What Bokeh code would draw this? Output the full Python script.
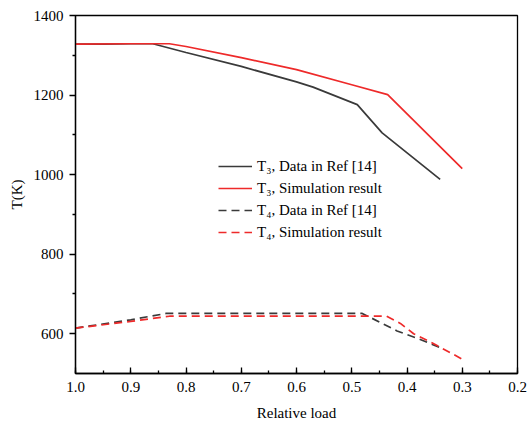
from bokeh.plotting import figure
from bokeh.models import (Range1d, SingleIntervalTicker, FixedTicker, PrintfTickFormatter,
                          Legend, LegendItem)
from bokeh.embed import file_html
from bokeh.resources import INLINE

# Relative load vs. temperature (K)
t3_ref_load = [1.0, 0.95, 0.9, 0.86, 0.8, 0.7, 0.6, 0.57, 0.49, 0.445, 0.34]
t3_ref_temp = [1328, 1328, 1329, 1329, 1307, 1272, 1233, 1220, 1176, 1105, 988]

t3_sim_load = [1.0, 0.9, 0.83, 0.8, 0.7, 0.6, 0.5, 0.435, 0.3]
t3_sim_temp = [1328, 1329, 1329, 1322, 1294, 1264, 1226, 1201, 1015]

t4_ref_load = [1.0, 0.9, 0.836, 0.7, 0.6, 0.481, 0.445, 0.418, 0.379, 0.34]
t4_ref_temp = [614, 635, 651, 651, 651, 651, 626, 607, 587, 565]

t4_sim_load = [1.0, 0.9, 0.83, 0.7, 0.6, 0.5, 0.437, 0.412, 0.388, 0.357, 0.3]
t4_sim_temp = [614, 631, 644, 644, 644, 644, 644, 626, 600, 579, 536]

y_major = [600, 800, 1000, 1200, 1400]
y_minor = [700, 900, 1100, 1300]

FONT = "Liberation Serif"
DARK = "#3a3a3a"
RED = "#ee2a2a"

p = figure(width=531, height=423, output_backend="svg", toolbar_location=None,
           x_range=Range1d(1.0, 0.2), y_range=Range1d(500, 1400),
           min_border_left=75, min_border_right=14, min_border_top=15, min_border_bottom=50)
p.background_fill_color = "white"
p.border_fill_color = "white"
p.outline_line_color = "black"
p.outline_line_width = 1.3
p.xgrid.visible = False
p.ygrid.visible = False

r1 = p.line(t3_ref_load, t3_ref_temp, line_color=DARK, line_width=1.7)
r2 = p.line(t3_sim_load, t3_sim_temp, line_color=RED, line_width=1.7)
r3 = p.line(t4_ref_load, t4_ref_temp, line_color=DARK, line_width=1.7, line_dash="8 5")
r4 = p.line(t4_sim_load, t4_sim_temp, line_color=RED, line_width=1.7, line_dash="8 5")

# x axis: ticks pointing into the frame
xa = p.xaxis[0]
xa.ticker = SingleIntervalTicker(interval=0.1, num_minor_ticks=2)
xa.formatter = PrintfTickFormatter(format="%.1f")
xa.axis_label = "Relative load"
xa.major_tick_in = 6
xa.major_tick_out = 0
xa.minor_tick_in = 3
xa.minor_tick_out = 0
xa.major_label_standoff = 8

# y axis: ticks pointing outward
ya = p.yaxis[0]
ya.ticker = FixedTicker(ticks=y_major, minor_ticks=y_minor)
ya.axis_label = "T(K)"
ya.major_tick_in = 0
ya.major_tick_out = 6
ya.minor_tick_in = 0
ya.minor_tick_out = 3
ya.major_label_standoff = 6
ya.axis_label_standoff = 6

for ax in (xa, ya):
    ax.axis_line_color = "black"
    ax.axis_line_width = 1.3
    ax.major_tick_line_color = "black"
    ax.major_tick_line_width = 1.3
    ax.minor_tick_line_color = "black"
    ax.minor_tick_line_width = 1.3
    ax.major_label_text_font = FONT
    ax.major_label_text_font_size = "15px"
    ax.major_label_text_color = "black"
    ax.axis_label_text_font = FONT
    ax.axis_label_text_font_size = "15px"
    ax.axis_label_text_font_style = "normal"
    ax.axis_label_text_color = "black"
xa.axis_label_standoff = 10

legend = Legend(items=[
    LegendItem(label="T\u2083, Data in Ref [14]", renderers=[r1]),
    LegendItem(label="T\u2083, Simulation result", renderers=[r2]),
    LegendItem(label="T\u2084, Data in Ref [14]", renderers=[r3]),
    LegendItem(label="T\u2084, Simulation result", renderers=[r4]),
], location=(143, 130))
legend.border_line_color = None
legend.background_fill_alpha = 0
legend.padding = 0
legend.margin = 0
legend.spacing = 0
legend.glyph_width = 34
legend.glyph_height = 22
legend.label_height = 22
legend.label_standoff = 5
legend.label_text_font = FONT
legend.label_text_font_size = "15px"
legend.label_text_color = "black"
p.add_layout(legend, "center")

open("out.html", "w").write(file_html(p, INLINE))
